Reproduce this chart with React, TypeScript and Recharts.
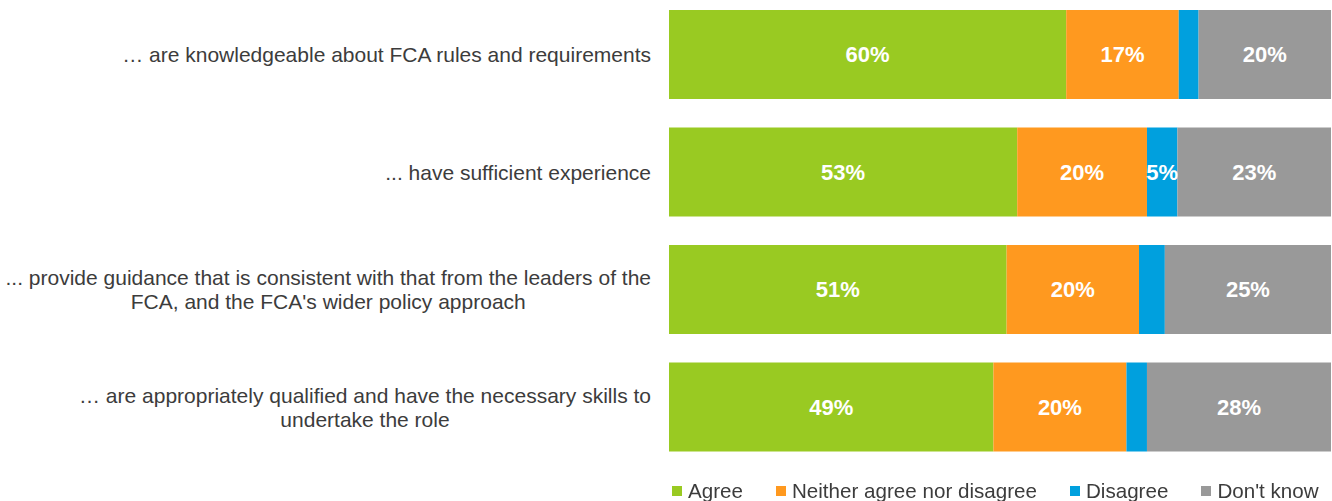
import React from 'react';
import { BarChart, Bar, XAxis, YAxis, Legend, LabelList } from 'recharts';

const categories = [
  '… are knowledgeable about FCA rules and requirements',
  '... have sufficient experience',
  "... provide guidance that is consistent with that from the leaders of the\nFCA, and the FCA's wider policy approach",
  '… are appropriately qualified and have the necessary skills to\nundertake the role',
];
const agree = [60.0, 52.6, 51.0, 49.0];
const neither = [17.0, 19.6, 20.0, 20.1];
const disagree = [3.0, 4.6, 3.9, 3.1];
const dontKnow = [20.0, 23.2, 25.1, 27.8];

const seriesNames = ['Agree', 'Neither agree nor disagree', 'Disagree', "Don't know"];
const seriesKeys = ['agree', 'neither', 'disagree', 'dontKnow'];
const seriesColors = ['#99CA22', '#FF991F', '#00A0DE', '#999999'];

const data = categories.map((name, i) => ({
  name,
  agree: agree[i],
  neither: neither[i],
  disagree: disagree[i],
  dontKnow: dontKnow[i],
}));

const FONT = '"Liberation Sans", Arial, Helvetica, sans-serif';
const CAT_SIZE = 21;
const TEXT_COLOR = '#3c3c3c';

let ctx: CanvasRenderingContext2D | null = null;
function measure(text: string, size: number): number {
  if (!ctx) {
    const c = document.createElement('canvas');
    ctx = c.getContext('2d');
  }
  if (!ctx) return text.length * size * 0.5;
  ctx.font = `${size}px "Liberation Sans"`;
  return ctx.measureText(text).width;
}

const CategoryTick = (props: any) => {
  const { x, y, payload } = props;
  const lines = String(payload.value).split('\n');
  const lh = 24;
  if (lines.length === 1) {
    return (
      <text x={x} y={y} dy="0.35em" textAnchor="end" fontFamily={FONT} fontSize={CAT_SIZE} fill={TEXT_COLOR}>
        {lines[0]}
      </text>
    );
  }
  const maxW = Math.max(...lines.map((l) => measure(l, CAT_SIZE)));
  const cx = x - maxW / 2;
  const n = lines.length;
  return (
    <text textAnchor="middle" fontFamily={FONT} fontSize={CAT_SIZE} fill={TEXT_COLOR}>
      {lines.map((l, i) => (
        <tspan key={i} x={cx} y={y + (i - (n - 1) / 2) * lh} dy="0.35em">
          {l}
        </tspan>
      ))}
    </text>
  );
};

const ValueLabel = (props: any) => {
  const { x, y, width, height, value } = props;
  if (width < 30) return null;
  return (
    <text
      x={x + width / 2}
      y={y + height / 2}
      dy="0.35em"
      textAnchor="middle"
      fontFamily={FONT}
      fontSize={22}
      fontWeight="bold"
      fill="#FFFFFF"
    >
      {`${Math.round(value)}%`}
    </text>
  );
};

const LegendContent = () => (
  <div
    style={{
      display: 'flex',
      alignItems: 'center',
      height: 24,
      fontFamily: FONT,
      fontSize: 20.6,
      color: TEXT_COLOR,
      whiteSpace: 'nowrap',
    }}
  >
    {seriesNames.map((s, i) => (
      <div key={s} style={{ display: 'flex', alignItems: 'center', marginRight: i < seriesNames.length - 1 ? 33 : 0 }}>
        <span style={{ width: 10, height: 10, background: seriesColors[i], marginRight: 6, display: 'inline-block' }} />
        <span>{s}</span>
      </div>
    ))}
  </div>
);

export default function App() {
  return (
    <div style={{ position: 'fixed', left: 0, top: -4, width: 1332, height: 505, background: '#fff' }}>
      <BarChart
        width={1332}
        height={505}
        data={data}
        layout="vertical"
        margin={{ top: 0, right: 1, bottom: 11, left: 0 }}
      >
        <XAxis type="number" domain={[0, 100]} hide />
        <YAxis
          type="category"
          dataKey="name"
          width={669}
          axisLine={false}
          tickLine={false}
          tickSize={0}
          tickMargin={18}
          tick={<CategoryTick />}
          interval={0}
        />
        <Legend
          verticalAlign="bottom"
          content={<LegendContent />}
          wrapperStyle={{ left: 672, bottom: -2, width: 'auto' }}
        />
        {seriesKeys.map((k, i) => (
          <Bar
            key={k}
            dataKey={k}
            name={seriesNames[i]}
            stackId="a"
            fill={seriesColors[i]}
            barSize={89}
            isAnimationActive={false}
          >
            <LabelList dataKey={k} content={<ValueLabel />} />
          </Bar>
        ))}
      </BarChart>
    </div>
  );
}
